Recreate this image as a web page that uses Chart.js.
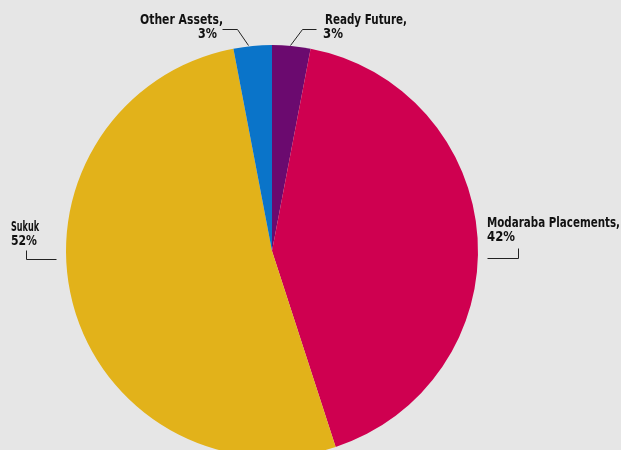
<!DOCTYPE html>
<html>
<head>
<meta charset="utf-8">
<script src="https://cdn.jsdelivr.net/npm/chart.js@4.4.1/dist/chart.umd.min.js"></script>
<style>
    html, body { margin: 0; padding: 0; background: #e6e6e6; overflow: hidden; }
    #wrap { position: relative; width: 621px; height: 520px; }
</style>
</head>
<body>
<div id="wrap"><canvas id="pie-chart"></canvas></div>
<script>
// Asset allocation pie
const categories = ['Ready Future', 'Modaraba Placements', 'Sukuk', 'Other Assets'];
const shares = [3, 42, 52, 3];
const sliceColors = ['#6b0a6f', '#cf0050', '#e2b21a', '#0a74c9'];
const labelLines = [
    ['Ready Future,', '3%'],
    ['Modaraba Placements,', '42%'],
    ['Sukuk', '52%'],
    ['Other Assets,', '3%']
];

const FONT = 'bold 14px "DejaVu Sans", sans-serif';

// per line: [left x, baseline y, squeezed width]; leader as polyline
const labelLayout = [
    { lines: [[325, 24, 82], [323, 38, 20]], leader: [[316, 29], [302, 29], [290, 45]] },
    { lines: [[487, 227, 133], [487, 241, 28]], leader: [[487, 258], [518, 258], [518, 248]] },
    { lines: [[11, 231, 28], [11, 245, 26]], leader: [[26, 250], [26, 259], [56, 259]] },
    { lines: [[140, 24, 83], [198, 38, 19]], leader: [[222, 29], [237, 29], [248, 45]] }
];

const calloutPlugin = {
    id: 'callouts',
    afterDraw(chart) {
        const ctx = chart.ctx;
        ctx.save();
        ctx.font = FONT;
        ctx.fillStyle = '#111';
        ctx.strokeStyle = '#222';
        ctx.lineWidth = 1;
        ctx.textBaseline = 'alphabetic';
        ctx.textAlign = 'left';
        labelLayout.forEach((l, i) => {
            labelLines[i].forEach((t, j) => {
                const [x, y, w] = l.lines[j];
                const natural = ctx.measureText(t).width;
                ctx.save();
                ctx.translate(x, y);
                ctx.scale(w / natural, 1);
                ctx.fillText(t, 0, 0);
                ctx.restore();
            });
            ctx.beginPath();
            l.leader.forEach((p, k) => {
                if (k === 0) ctx.moveTo(p[0] + 0.5, p[1] + 0.5);
                else ctx.lineTo(p[0] + 0.5, p[1] + 0.5);
            });
            ctx.stroke();
        });
        ctx.restore();
    }
};

new Chart(document.getElementById('pie-chart'), {
    type: 'pie',
    data: {
        labels: categories,
        datasets: [{
            data: shares,
            backgroundColor: sliceColors,
            borderWidth: 0
        }]
    },
    options: {
        responsive: true,
        maintainAspectRatio: false,
        animation: false,
        layout: {
            padding: { left: 66, right: 143, top: 45, bottom: 63 }
        },
        plugins: {
            legend: { display: false },
            tooltip: { enabled: false }
        }
    },
    plugins: [calloutPlugin]
});
</script>
</body>
</html>
